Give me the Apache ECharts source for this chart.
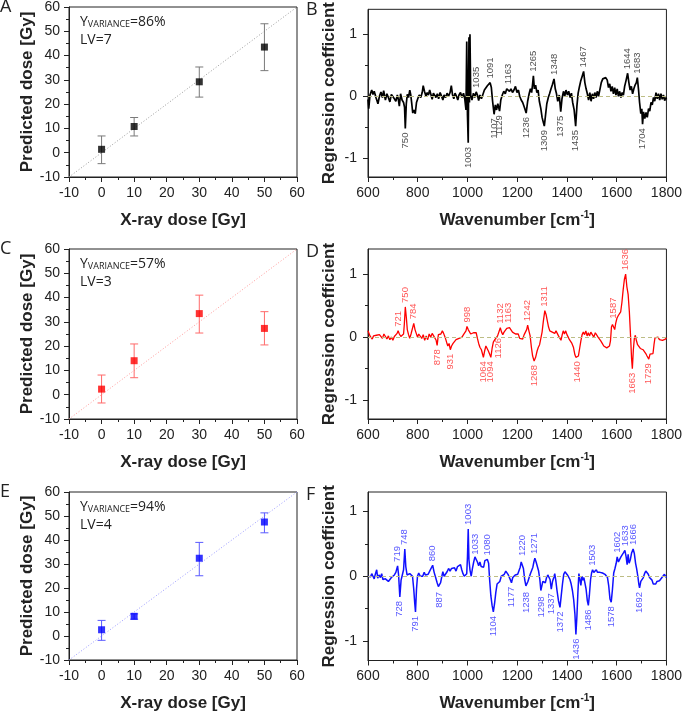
<!DOCTYPE html>
<html>
<head>
<meta charset="utf-8">
<script src="https://cdn.jsdelivr.net/npm/echarts@6/dist/echarts.min.js"></script>
<style>
html, body { margin: 0; padding: 0; background: #fff; }
#main { width: 685px; height: 713px; }
</style>
</head>
<body>
<div id="main"></div>
<script>
// PLS prediction (left) and regression coefficients (right)
var doseX = [0, 10, 30, 50];

var predA = [1.4, 10.8, 29.2, 43.5];
var errA = [[-4.5, 6.9], [6.9, 14.5], [22.9, 35.3], [33.8, 53.1]];
var predC = [2.3, 14.0, 33.4, 27.3];
var errC = [[-3.4, 8.1], [7.0, 20.9], [25.4, 41.0], [20.5, 34.2]];
var predE = [2.6, 8.2, 32.4, 47.5];
var errE = [[-1.8, 6.5], [7.0, 9.2], [25.1, 39.0], [43.0, 51.3]];

var yVariance = ['86%', '57%', '94%'];
var latentVars = ['7', '3', '4'];
var panelLetters = [['A', 'B'], ['C', 'D'], ['E', 'F']];

var specB = [[600,-0.05],[603,-0.2],[608,0.02],[615,0.1],[620,0.03],[625,0.08],[632,-0.02],[640,-0.12],[646,0.0],[652,0.07],[658,-0.02],[663,0.09],[670,-0.06],[676,0.04],[682,-0.02],[688,-0.09],[694,0.03],[700,0.06],[706,-0.04],[712,-0.08],[718,0.02],[722,-0.05],[726,-0.16],[731,0.04],[737,-0.06],[743,-0.1],[747,-0.18],[750,-0.52],[754,-0.12],[758,0.03],[763,-0.02],[768,0.1],[772,0.02],[776,-0.12],[780,-0.27],[785,-0.22],[790,-0.28],[795,-0.1],[800,-0.04],[806,0.02],[812,-0.02],[818,0.06],[822,0.17],[827,0.08],[833,0.0],[838,0.06],[843,0.02],[848,0.1],[853,0.03],[858,-0.05],[863,0.05],[868,0.08],[873,-0.02],[879,0.04],[884,-0.04],[890,0.06],[896,0.0],[901,-0.06],[906,0.02],[912,-0.02],[918,0.05],[924,0.0],[930,0.06],[935,0.17],[940,0.02],[945,-0.04],[950,0.05],[956,0.0],[961,-0.06],[966,0.02],[972,0.06],[978,-0.02],[984,0.05],[989,-0.04],[994,-0.22],[997,0.88],[1000,-0.3],[1003,-0.75],[1006,0.95],[1008,-0.1],[1010,1.0],[1013,0.02],[1018,-0.06],[1024,0.05],[1029,-0.02],[1035,0.07],[1040,0.02],[1045,-0.07],[1050,0.02],[1056,-0.04],[1062,0.03],[1068,0.1],[1074,0.08],[1080,0.17],[1086,0.14],[1091,0.22],[1096,0.14],[1101,-0.08],[1107,-0.29],[1112,-0.14],[1117,-0.22],[1122,-0.12],[1129,-0.24],[1134,-0.06],[1140,0.02],[1146,0.08],[1152,0.04],[1158,0.12],[1163,0.13],[1169,0.08],[1175,0.12],[1181,0.06],[1187,0.1],[1193,0.16],[1199,0.06],[1205,0.1],[1210,0.0],[1216,-0.06],[1222,-0.1],[1229,-0.18],[1236,-0.27],[1242,-0.08],[1248,0.04],[1253,0.12],[1258,0.06],[1262,0.2],[1265,0.33],[1269,0.12],[1274,0.18],[1279,0.06],[1284,0.1],[1289,-0.08],[1295,-0.2],[1300,-0.34],[1305,-0.42],[1309,-0.48],[1314,-0.3],[1319,-0.12],[1325,-0.02],[1330,0.04],[1336,0.12],[1341,0.18],[1348,0.28],[1353,0.12],[1358,0.04],[1363,-0.08],[1369,0.02],[1375,-0.25],[1380,-0.04],[1386,0.08],[1391,0.0],[1396,0.1],[1402,0.02],[1407,0.08],[1413,-0.02],[1418,0.05],[1423,-0.1],[1429,-0.22],[1435,-0.48],[1440,-0.16],[1445,0.05],[1450,0.15],[1455,0.24],[1461,0.32],[1467,0.4],[1472,0.22],[1477,0.12],[1482,0.04],[1487,-0.06],[1492,0.06],[1497,-0.08],[1502,0.04],[1507,-0.04],[1512,0.06],[1517,-0.02],[1522,0.08],[1527,0.0],[1533,0.12],[1538,0.22],[1544,0.28],[1550,0.3],[1556,0.3],[1562,0.26],[1567,0.14],[1572,0.2],[1577,0.08],[1582,0.16],[1587,0.04],[1592,0.14],[1597,0.02],[1602,0.12],[1607,0.0],[1612,0.08],[1617,-0.02],[1622,0.06],[1627,0.02],[1632,0.16],[1638,0.26],[1644,0.37],[1649,0.22],[1654,0.1],[1659,0.16],[1664,0.04],[1669,0.12],[1674,0.18],[1679,0.22],[1683,0.3],[1688,0.1],[1692,-0.1],[1697,-0.28],[1701,-0.2],[1704,-0.45],[1708,-0.25],[1713,-0.36],[1718,-0.26],[1723,-0.34],[1728,-0.2],[1733,-0.24],[1738,-0.1],[1743,-0.14],[1748,-0.02],[1753,-0.08],[1758,0.06],[1763,-0.04],[1768,0.04],[1773,-0.06],[1778,0.04],[1783,-0.05],[1788,0.02],[1793,-0.07],[1798,-0.02],[1800,-0.05]];

var specD = [[600,0.1],[604,0.07],[608,0.02],[612,0.05],[617,-0.03],[622,0.02],[628,-0.01],[634,0.03],[640,0.0],[646,0.04],[652,0.01],[658,-0.02],[664,0.05],[670,0.01],[676,-0.03],[682,0.02],[688,-0.04],[694,0.0],[700,-0.05],[706,0.01],[712,0.03],[717,0.06],[721,0.1],[726,0.05],[732,0.01],[738,0.0],[743,0.05],[746,0.2],[750,0.48],[754,0.32],[758,0.12],[763,0.04],[768,-0.02],[773,0.05],[778,0.02],[784,0.22],[789,0.12],[794,0.06],[799,0.0],[804,0.05],[810,0.03],[816,-0.02],[822,0.04],[828,-0.05],[834,0.02],[840,-0.04],[846,0.05],[852,0.0],[858,0.06],[864,0.02],[870,0.0],[874,-0.05],[878,-0.13],[883,0.04],[888,0.07],[893,0.05],[899,0.1],[904,0.06],[910,0.0],[916,-0.08],[921,-0.14],[926,-0.1],[931,-0.2],[936,-0.14],[942,-0.1],[948,-0.08],[954,-0.04],[960,-0.06],[966,-0.02],[972,-0.05],[978,0.0],[984,0.04],[990,0.07],[994,0.1],[998,0.17],[1003,0.12],[1008,0.13],[1013,0.05],[1018,0.03],[1024,0.07],[1030,0.04],[1035,0.07],[1040,-0.02],[1045,-0.1],[1050,-0.16],[1056,-0.2],[1060,-0.26],[1064,-0.32],[1069,-0.22],[1074,-0.14],[1079,-0.16],[1084,-0.22],[1089,-0.2],[1094,-0.32],[1099,-0.18],[1104,-0.08],[1110,-0.04],[1116,-0.02],[1121,0.02],[1126,0.05],[1132,0.15],[1137,0.08],[1142,0.04],[1147,0.08],[1152,0.1],[1158,0.14],[1163,0.16],[1169,0.15],[1175,0.12],[1181,0.08],[1187,0.1],[1193,0.05],[1198,0.02],[1204,0.05],[1210,-0.02],[1216,0.0],[1222,-0.03],[1228,0.04],[1233,0.08],[1238,0.12],[1242,0.19],[1247,0.1],[1252,0.02],[1257,-0.16],[1262,-0.3],[1268,-0.38],[1274,-0.32],[1280,-0.22],[1285,-0.16],[1290,-0.12],[1295,-0.14],[1300,0.08],[1305,0.25],[1311,0.42],[1316,0.36],[1321,0.26],[1326,0.16],[1331,0.1],[1336,0.12],[1341,0.08],[1346,0.1],[1351,0.06],[1356,0.1],[1361,0.06],[1366,0.02],[1371,0.0],[1376,-0.05],[1381,0.04],[1385,0.1],[1390,0.05],[1395,0.1],[1400,0.04],[1405,0.0],[1410,-0.04],[1415,-0.06],[1420,-0.1],[1426,-0.16],[1432,-0.28],[1436,-0.32],[1440,-0.32],[1446,-0.3],[1451,-0.18],[1456,-0.06],[1461,0.04],[1466,0.08],[1471,0.04],[1476,0.1],[1481,0.02],[1486,0.07],[1491,0.02],[1496,0.08],[1502,0.04],[1508,0.0],[1514,0.07],[1520,0.08],[1525,0.0],[1530,0.02],[1536,-0.06],[1542,-0.1],[1548,-0.14],[1554,-0.16],[1560,-0.17],[1566,-0.16],[1571,-0.14],[1575,-0.06],[1579,0.16],[1583,0.2],[1587,0.23],[1592,0.12],[1596,0.22],[1601,0.3],[1606,0.34],[1611,0.36],[1616,0.4],[1621,0.55],[1626,0.75],[1631,0.92],[1636,1.0],[1641,0.8],[1646,0.68],[1651,0.4],[1656,0.0],[1660,-0.35],[1663,-0.5],[1667,-0.2],[1671,-0.02],[1675,0.03],[1679,-0.05],[1684,-0.12],[1690,-0.14],[1695,-0.18],[1700,-0.16],[1706,-0.2],[1712,-0.22],[1717,-0.26],[1722,-0.3],[1729,-0.35],[1734,-0.27],[1740,-0.28],[1746,-0.26],[1750,-0.12],[1754,-0.01],[1760,-0.02],[1766,0.0],[1772,-0.04],[1778,-0.02],[1784,-0.05],[1790,-0.02],[1796,-0.03],[1800,-0.01]];

var specF = [[600,0.0],[605,-0.02],[610,-0.01],[615,0.04],[620,0.0],[625,-0.04],[630,0.04],[635,0.1],[639,-0.03],[644,0.02],[650,-0.02],[655,0.04],[660,-0.05],[665,-0.02],[670,-0.04],[676,-0.03],[682,-0.08],[688,-0.11],[694,-0.02],[700,-0.01],[706,0.02],[712,0.06],[719,0.16],[723,0.02],[728,-0.32],[733,-0.06],[738,0.02],[743,0.1],[748,0.42],[752,0.15],[757,0.02],[762,-0.01],[768,0.04],[774,0.07],[779,0.0],[784,-0.2],[788,-0.42],[791,-0.55],[795,-0.2],[799,0.0],[804,0.05],[810,0.0],[815,-0.03],[820,0.0],[826,0.06],[831,0.02],[836,-0.01],[842,0.03],[848,0.08],[854,0.1],[860,0.17],[866,0.06],[872,-0.02],[878,-0.1],[883,-0.16],[887,-0.18],[892,-0.1],[897,0.0],[901,0.07],[906,0.0],[912,0.03],[918,0.07],[924,0.12],[930,0.08],[936,0.12],[942,0.1],[948,0.13],[954,0.08],[960,0.15],[966,0.14],[972,0.18],[977,0.1],[982,0.04],[987,0.0],[992,-0.02],[997,0.04],[1000,0.3],[1003,0.73],[1006,0.25],[1010,0.1],[1015,0.0],[1020,0.12],[1025,0.22],[1030,0.3],[1035,0.27],[1040,0.22],[1045,0.16],[1050,0.22],[1055,0.15],[1060,0.18],[1065,0.14],[1070,0.24],[1075,0.25],[1080,0.26],[1085,0.2],[1089,-0.05],[1094,-0.3],[1099,-0.45],[1104,-0.55],[1109,-0.42],[1114,-0.25],[1119,-0.12],[1124,-0.1],[1130,-0.08],[1136,0.0],[1142,0.02],[1148,0.03],[1154,0.08],[1158,0.07],[1163,0.03],[1168,0.0],[1173,-0.06],[1177,-0.1],[1182,-0.02],[1187,-0.03],[1192,0.02],[1197,0.0],[1202,0.03],[1207,0.06],[1212,0.14],[1216,0.22],[1220,0.25],[1225,0.12],[1230,-0.05],[1235,-0.15],[1238,-0.18],[1243,-0.08],[1248,-0.02],[1253,0.04],[1258,0.06],[1263,0.14],[1267,0.22],[1271,0.28],[1276,0.22],[1281,0.2],[1286,0.08],[1291,-0.05],[1295,-0.22],[1298,-0.25],[1303,-0.08],[1308,-0.05],[1313,-0.1],[1318,-0.02],[1323,0.02],[1327,0.04],[1332,-0.05],[1337,-0.2],[1342,-0.08],[1347,-0.02],[1351,0.04],[1355,-0.06],[1360,-0.22],[1366,-0.38],[1372,-0.48],[1377,-0.3],[1382,-0.12],[1387,0.03],[1392,0.07],[1397,0.06],[1402,0.02],[1407,0.03],[1412,-0.05],[1417,-0.12],[1422,-0.22],[1427,-0.36],[1432,-0.58],[1436,-0.9],[1440,-0.62],[1444,-0.25],[1448,0.04],[1452,-0.05],[1456,-0.14],[1460,0.0],[1464,-0.06],[1468,-0.02],[1472,-0.1],[1477,-0.2],[1482,-0.38],[1486,-0.45],[1490,-0.3],[1495,-0.05],[1499,0.05],[1503,0.1],[1508,0.06],[1513,0.03],[1518,0.1],[1523,0.06],[1528,0.04],[1533,0.06],[1538,0.03],[1543,0.05],[1548,0.04],[1553,0.03],[1558,0.0],[1563,-0.02],[1568,-0.15],[1573,-0.35],[1578,-0.4],[1583,-0.2],[1588,0.05],[1593,0.12],[1598,0.2],[1602,0.3],[1607,0.22],[1612,0.26],[1617,0.3],[1622,0.32],[1627,0.36],[1633,0.4],[1638,0.3],[1642,0.18],[1646,0.34],[1650,0.2],[1655,0.26],[1660,0.36],[1666,0.42],[1671,0.35],[1676,0.2],[1680,0.12],[1685,0.0],[1689,-0.12],[1692,-0.18],[1697,-0.08],[1702,-0.06],[1707,-0.02],[1712,0.04],[1717,0.08],[1722,0.06],[1727,0.03],[1732,-0.02],[1737,-0.04],[1742,-0.06],[1747,-0.12],[1752,-0.1],[1757,-0.12],[1762,-0.08],[1767,-0.06],[1772,-0.07],[1777,-0.04],[1782,-0.02],[1787,0.0],[1792,0.03],[1795,0.05],[1800,-0.02]];

// labelled bands: above the curve / below the curve
var peaksUpB = [1035, 1091, 1163, 1265, 1348, 1467, 1644, 1683];
var peaksDownB = [750, 1003, 1107, 1129, 1236, 1309, 1375, 1435, 1704];
var peaksUpD = [721, 750, 784, 998, 1132, 1163, 1242, 1311, 1587, 1636];
var peaksDownD = [878, 931, 1064, 1094, 1126, 1268, 1440, 1663, 1729];
var peaksUpF = [719, 748, 860, 1003, 1033, 1080, 1220, 1271, 1503, 1602, 1633, 1666];
var peaksDownF = [728, 791, 887, 1104, 1177, 1238, 1298, 1337, 1372, 1436, 1486, 1578, 1692];

// coefficient axis limits per row
var coefRange = [[-1.3, 1.4], [-1.3, 1.4], [-1.3, 1.3]];

var rows = [
	{pred: predA, err: errA, spec: specB, up: peaksUpB, down: peaksDownB,
		mark: '#000000', bar: '#7a7a7a', diag: '#9a9a9a', line: '#000000', text: '#1a1a1a', lw: 1.7},
	{pred: predC, err: errC, spec: specD, up: peaksUpD, down: peaksDownD,
		mark: '#ff0000', bar: '#ff6a6a', diag: '#ff9a9a', line: '#ff0000', text: '#ff2a2a', lw: 1.3},
	{pred: predE, err: errE, spec: specF, up: peaksUpF, down: peaksDownF,
		mark: '#0000ff', bar: '#5a5aff', diag: '#9a9aff', line: '#1010ff', text: '#2a2aff', lw: 1.5}
];

var rowTops = [7, 249, 492];
var plotH = 170;
var axisFont = '"Liberation Sans", Arial, sans-serif';
var noteFont = '"Open Sans", "Liberation Sans", sans-serif';
var ink = '#222';

function peakValue(spec, wn) {
	var best = spec[0];
	for (var k = 1; k < spec.length; k++) {
		if (Math.abs(spec[k][0] - wn) < Math.abs(best[0] - wn)) best = spec[k];
	}
	return best[1];
}

function errorBars(color) {
	return function(params, api) {
		var x = api.value(0);
		var top = api.coord([x, api.value(2)]);
		var bot = api.coord([x, api.value(1)]);
		var w = 4;
		var st = {stroke: color, lineWidth: 1};
		return {type: 'group', children: [
			{type: 'line', shape: {x1: top[0], y1: top[1], x2: bot[0], y2: bot[1]}, style: st},
			{type: 'line', shape: {x1: top[0] - w, y1: top[1], x2: top[0] + w, y2: top[1]}, style: st},
			{type: 'line', shape: {x1: bot[0] - w, y1: bot[1], x2: bot[0] + w, y2: bot[1]}, style: st}
		]};
	};
}

function tickStyle() {
	return {show: true, inside: false, length: 5, lineStyle: {color: ink, width: 1}};
}

var grids = [], xAxes = [], yAxes = [], series = [], graphics = [];

rows.forEach(function(r, i) {
	var top = rowTops[i];
	grids.push({left: 69, top: top, width: 228, height: plotH, show: true, borderColor: ink, borderWidth: 1});
	grids.push({left: 368, top: top, width: 301, height: plotH, show: true, borderColor: ink, borderWidth: 1});

	// dose panel axes
	xAxes.push({
		gridIndex: 2 * i, type: 'value', min: -10, max: 60, interval: 10,
		axisLine: {onZero: false, lineStyle: {color: ink}},
		axisTick: tickStyle(),
		minorTick: {show: true, splitNumber: 2, length: 3, lineStyle: {color: ink}},
		splitLine: {show: false},
		axisLabel: {fontSize: 14, color: ink, margin: 9, fontFamily: axisFont},
		name: 'X-ray dose [Gy]', nameLocation: 'middle', nameGap: 35,
		nameTextStyle: {fontSize: 17, fontWeight: 'bold', color: ink, fontFamily: axisFont}
	});
	yAxes.push({
		gridIndex: 2 * i, type: 'value', min: -10, max: 60, interval: 10,
		axisLine: {onZero: false, lineStyle: {color: ink}},
		axisTick: tickStyle(),
		minorTick: {show: true, splitNumber: 2, length: 3, lineStyle: {color: ink}},
		splitLine: {show: false},
		axisLabel: {fontSize: 14, color: ink, margin: 9, fontFamily: axisFont},
		name: 'Predicted dose [Gy]', nameLocation: 'middle', nameGap: 27,
		nameTextStyle: {fontSize: 17, fontWeight: 'bold', color: ink, fontFamily: axisFont}
	});

	// spectrum panel axes
	xAxes.push({
		gridIndex: 2 * i + 1, type: 'value', min: 600, max: 1800, interval: 200,
		axisLine: {onZero: false, lineStyle: {color: ink}},
		axisTick: tickStyle(),
		minorTick: {show: true, splitNumber: 2, length: 3, lineStyle: {color: ink}},
		splitLine: {show: false},
		axisLabel: {fontSize: 14, color: ink, margin: 9, fontFamily: axisFont,
			formatter: function(v) { return String(v); }},
		name: '{t|Wavenumber [cm}{s|-1}{t|]}', nameLocation: 'middle', nameGap: 33,
		nameTextStyle: {color: ink, rich: {
			t: {fontSize: 17, fontWeight: 'bold', fontFamily: axisFont, color: ink, lineHeight: 20},
			s: {fontSize: 10, fontWeight: 'bold', fontFamily: axisFont, color: ink, lineHeight: 10, verticalAlign: 'top'}
		}}
	});
	yAxes.push({
		gridIndex: 2 * i + 1, type: 'value', position: 'left', min: coefRange[i][0], max: coefRange[i][1],
		axisLine: {onZero: false, lineStyle: {color: ink}},
		axisTick: {show: true, length: 5, lineStyle: {color: ink}, customValues: [-1, 0, 1]},
		splitLine: {show: false},
		axisLabel: {fontSize: 14, color: ink, margin: 11, fontFamily: axisFont, customValues: [-1, 0, 1]},
		name: 'Regression coefficient', nameLocation: 'middle', nameGap: 30,
		nameTextStyle: {fontSize: 17, fontWeight: 'bold', color: ink, fontFamily: axisFont}
	});
	// half-unit minor ticks
	yAxes.push({
		gridIndex: 2 * i + 1, type: 'value', position: 'left', min: coefRange[i][0], max: coefRange[i][1],
		axisLine: {show: false, onZero: false},
		axisTick: {show: true, length: 3, lineStyle: {color: ink}, customValues: [-0.5, 0.5]},
		axisLabel: {show: false},
		splitLine: {show: false}
	});

	var dx = 2 * i, sx = 2 * i + 1, dy = 3 * i, sy = 3 * i + 1;

	series.push({
		type: 'line', xAxisIndex: dx, yAxisIndex: dy, data: [[-10, -10], [60, 60]],
		symbol: 'none', silent: true, z: 1,
		lineStyle: {color: r.diag, width: 1, type: [1, 2]}
	});
	series.push({
		type: 'custom', xAxisIndex: dx, yAxisIndex: dy, z: 2,
		renderItem: errorBars(r.bar),
		data: doseX.map(function(x, k) { return [x, r.err[k][0], r.err[k][1]]; })
	});
	series.push({
		type: 'scatter', xAxisIndex: dx, yAxisIndex: dy, z: 3,
		symbol: 'rect', symbolSize: 7, itemStyle: {color: r.mark},
		data: doseX.map(function(x, k) { return [x, r.pred[k]]; })
	});

	series.push({
		type: 'line', xAxisIndex: sx, yAxisIndex: sy, data: r.spec,
		symbol: 'none', z: 3,
		lineStyle: {color: r.line, width: r.lw},
		markLine: {
			silent: true, symbol: 'none', label: {show: false},
			lineStyle: {color: '#bdbd85', type: [4, 3], width: 1},
			data: [{yAxis: 0}]
		}
	});

	var lab = {fontSize: 9.5, color: r.text, fontFamily: axisFont, rotate: 90, verticalAlign: 'middle'};
	series.push({
		type: 'scatter', xAxisIndex: sx, yAxisIndex: sy, symbolSize: 0, silent: true, z: 4, clip: false,
		data: r.up.map(function(w) { return [w, peakValue(r.spec, w)]; }),
		label: Object.assign({show: true, position: 'top', distance: 4, align: 'left',
			formatter: function(p) { return String(p.value[0]); }}, lab)
	});
	series.push({
		type: 'scatter', xAxisIndex: sx, yAxisIndex: sy, symbolSize: 0, silent: true, z: 4, clip: false,
		data: r.down.map(function(w) { return [w, peakValue(r.spec, w)]; }),
		label: Object.assign({show: true, position: 'bottom', distance: 4, align: 'right',
			formatter: function(p) { return String(p.value[0]); }}, lab)
	});

	// panel letters and fit notes
	graphics.push({type: 'text', left: 0, top: top - 9,
		style: {text: panelLetters[i][0], fontSize: 18, fontFamily: noteFont, fill: ink}});
	graphics.push({type: 'text', left: 306, top: top - 6,
		style: {text: panelLetters[i][1], fontSize: 18, fontFamily: noteFont, fill: ink}});
	graphics.push({type: 'text', left: 80, top: top + 8,
		style: {
			text: '{a|Y}{b|VARIANCE}{a|=' + yVariance[i] + '}',
			rich: {
				a: {fontSize: 14, fontFamily: noteFont, fill: ink, lineHeight: 18, verticalAlign: 'bottom'},
				b: {fontSize: 9, fontFamily: noteFont, fill: ink, lineHeight: 6, verticalAlign: 'bottom'}
			}
		}});
	graphics.push({type: 'text', left: 80, top: top + 26,
		style: {text: 'LV=' + latentVars[i], fontSize: 14, fontFamily: noteFont, fill: ink}});
});

var myChart = echarts.init(document.getElementById('main'));
myChart.setOption({
	animation: false,
	backgroundColor: '#fff',
	grid: grids,
	xAxis: xAxes,
	yAxis: yAxes,
	series: series,
	graphic: graphics
});
</script>
</body>
</html>
